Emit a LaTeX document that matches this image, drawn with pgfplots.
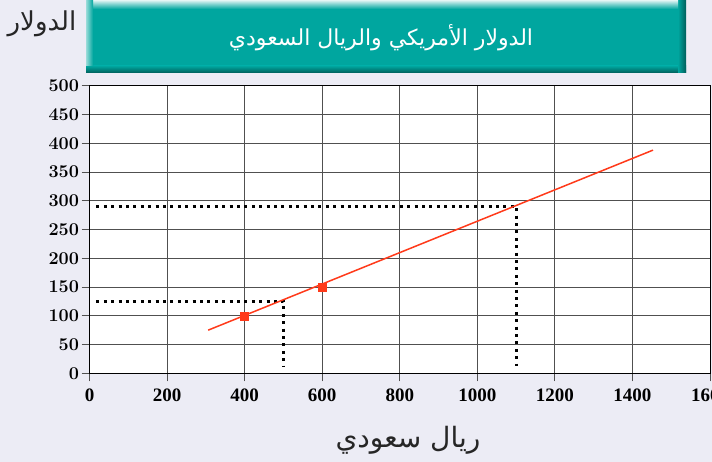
\documentclass[border=0pt]{standalone}
\usepackage{pgfplots}
\pgfplotsset{compat=1.18}
\usepackage{fontspec}
\newfontfamily\arabicfont[Script=Arabic]{DejaVu Sans}
\newfontfamily\timesfont{Liberation Serif}
\TeXXeTstate=1
\definecolor{bgc}{HTML}{ECECF5}
\definecolor{tealc}{HTML}{00A69F}
\definecolor{tealdark}{HTML}{005E5A}
\definecolor{redc}{HTML}{FF3A1A}
\definecolor{gridc}{HTML}{505050}
\newcommand{\yfont}{\fontsize{18}{18}\selectfont\bfseries}
\newcommand{\xfont}{\timesfont\fontsize{19}{19}\selectfont\bfseries}
\begin{document}
\begin{tikzpicture}
\fill[bgc] (0pt,0pt) rectangle (712pt,-462pt);
% title box
\fill[tealc] (86pt,-1pt) rectangle (686pt,-73pt);
\shade[top color=tealc, bottom color=tealdark] (86pt,-66pt) rectangle (686pt,-73pt);
\shade[left color=tealc, right color=tealdark] (678pt,-1pt) rectangle (686pt,-73pt);
\shade[top color=white!80!tealc, bottom color=tealc] (86pt,-1pt) rectangle (678pt,-9pt);
\shade[left color=white!60!tealc, right color=tealc] (86pt,-1pt) rectangle (93pt,-66pt);
\node[text=white, font=\arabicfont\fontsize{22}{24}\selectfont] at (381pt,-38pt) {\beginR الدولار الأمريكي والريال السعودي\endR};
\node[text=black!85, font=\arabicfont\fontsize{26}{28}\selectfont] at (42pt,-24pt) {\beginR الدولار\endR};
\node[text=black!85, font=\arabicfont\fontsize{28}{30}\selectfont] at (408pt,-440pt) {\beginR ريال سعودي\endR};
\begin{axis}[
  at={(89.5pt,-373.3pt)}, anchor=south west,
  scale only axis, width=620.5pt, height=287.6pt,
  xmin=0, xmax=1600, ymin=0, ymax=500,
  xtick={0,200,...,1600}, ytick={0,50,...,500},
  xticklabels={{\xfont 0},{\xfont 200},{\xfont 400},{\xfont 600},{\xfont 800},{\xfont 1000},{\xfont 1200},{\xfont 1400},{\xfont 1600}},
  yticklabels={{\yfont 0},{\yfont 50},{\yfont 100},{\yfont 150},{\yfont 200},{\yfont 250},{\yfont 300},{\yfont 350},{\yfont 400},{\yfont 450},{\yfont 500}},
  axis background/.style={fill=white},
  grid=major,
  major grid style={gridc, line width=0.9pt},
  axis line style={black, line width=1pt},
  tick align=outside,
  major tick length=8pt,
  tick style={gridc, line width=0.9pt},
  xtick pos=bottom, ytick pos=left,
  yticklabel style={xshift=1pt},
  xticklabel style={yshift=-4pt},
  clip=false,
]
\addplot[black, line width=2.8pt, dash pattern=on 3pt off 4.4pt] coordinates {(18,125) (501,125) (501,12)};
\addplot[black, line width=2.8pt, dash pattern=on 3pt off 4.4pt] coordinates {(18,290) (1101,290) (1101,12)};
\addplot[redc, line width=1.5pt] coordinates {(306,75) (1453,388)};
\addplot[only marks, mark=square*, mark size=4pt, mark options={fill=redc, draw=redc}, draw=none] coordinates {(400,100) (600,150)};
\end{axis}
\pgfresetboundingbox
\path[use as bounding box] (0pt,0pt) rectangle (712pt,-462pt);
\end{tikzpicture}
\end{document}
